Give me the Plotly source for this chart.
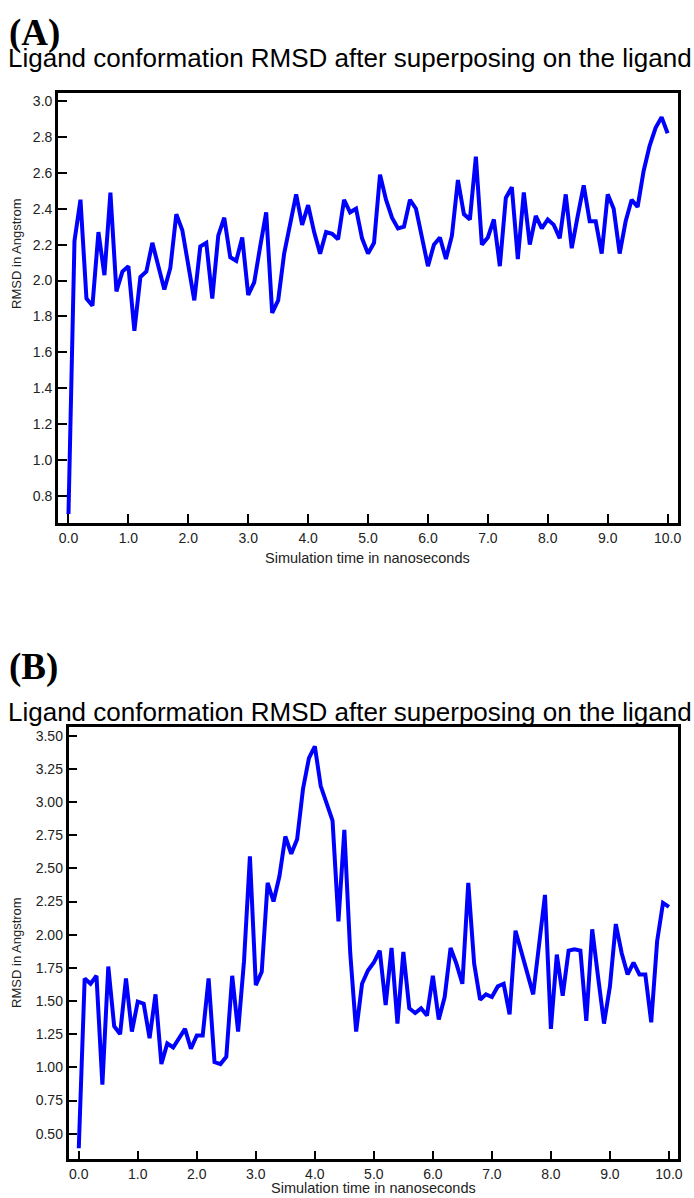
import plotly.graph_objects as go

W, H = 694, 1198

# ---- data ----
time_ns = [round(i * 0.1, 1) for i in range(101)]

rmsd_a = [0.70, 2.22, 2.45, 1.90, 1.86, 2.27, 2.03, 2.49, 1.94, 2.05,
          2.08, 1.72, 2.02, 2.05, 2.21, 2.08, 1.95, 2.07, 2.37, 2.28,
          2.09, 1.89, 2.19, 2.21, 1.90, 2.25, 2.35, 2.13, 2.11, 2.24,
          1.92, 1.99, 2.19, 2.38, 1.82, 1.89, 2.15, 2.32, 2.48, 2.31,
          2.42, 2.27, 2.15, 2.27, 2.26, 2.23, 2.45, 2.38, 2.40, 2.235,
          2.15, 2.21, 2.59, 2.45, 2.35, 2.29, 2.30, 2.45, 2.40, 2.24,
          2.08, 2.20, 2.24, 2.12, 2.25, 2.56, 2.37, 2.34, 2.69, 2.20,
          2.24, 2.34, 2.08, 2.46, 2.52, 2.12, 2.49, 2.20, 2.36, 2.29,
          2.34, 2.31, 2.235, 2.48, 2.18, 2.36, 2.53, 2.33, 2.33, 2.15,
          2.48, 2.40, 2.15, 2.33, 2.45, 2.41, 2.61, 2.75, 2.85, 2.91,
          2.82]

rmsd_b = [0.39, 1.67, 1.63, 1.69, 0.87, 1.76, 1.31, 1.25, 1.67, 1.27,
          1.495, 1.48, 1.22, 1.55, 1.025, 1.18, 1.15, 1.22, 1.29, 1.14,
          1.24, 1.24, 1.67, 1.04, 1.025, 1.08, 1.69, 1.27, 1.80, 2.59,
          1.62, 1.72, 2.39, 2.25, 2.44, 2.74, 2.61, 2.72, 3.10, 3.33,
          3.42, 3.12, 2.99, 2.86, 2.10, 2.79, 1.86, 1.27, 1.63, 1.73,
          1.79, 1.88, 1.47, 1.90, 1.33, 1.87, 1.445, 1.41, 1.445, 1.39,
          1.69, 1.36, 1.53, 1.90, 1.78, 1.63, 2.39, 1.78, 1.51, 1.55,
          1.53, 1.61, 1.63, 1.40, 2.03, 1.88, 1.71, 1.55, 1.91, 2.30,
          1.29, 1.85, 1.54, 1.88, 1.89, 1.88, 1.35, 2.04, 1.68, 1.33,
          1.61, 2.08, 1.86, 1.70, 1.79, 1.70, 1.70, 1.34, 1.95, 2.24,
          2.21]

x_tickvals = list(range(11))
x_ticktext = [f"{v:.1f}" for v in x_tickvals]

panel_labels = ["(A)", "(B)"]
chart_title = "Ligand conformation RMSD after superposing on the ligand"
x_title = "Simulation time in nanoseconds"
y_title = "RMSD in Angstrom"

# ---- layout helpers (pixel -> paper) ----
def px_x(x):
    return x / W

def px_y(y):
    return 1 - y / H

FONT = "Arial, Liberation Sans, sans-serif"
SERIF = "Times New Roman, Liberation Serif, serif"

fig = go.Figure()
fig.add_trace(go.Scatter(x=time_ns, y=rmsd_a, mode="lines",
                         line=dict(color="#0000FF", width=4),
                         xaxis="x", yaxis="y", showlegend=False))
fig.add_trace(go.Scatter(x=time_ns, y=rmsd_b, mode="lines",
                         line=dict(color="#0000FF", width=4),
                         xaxis="x2", yaxis="y2", showlegend=False))

axis_common = dict(showline=True, linecolor="black", linewidth=2.5,
                   mirror=True, ticks="inside", ticklen=9, tickwidth=2,
                   tickcolor="black", showgrid=False, zeroline=False,
                   tickfont=dict(family=FONT, size=14, color="#222"))

# panel A box: x 58.3-682.7, y 92.7-523
# panel B box: x 69-682.7, y 727.3-1159.3
fig.update_layout(
    width=W, height=H, autosize=False,
    margin=dict(l=0, r=0, t=0, b=0),
    paper_bgcolor="white", plot_bgcolor="white",
    xaxis=dict(domain=[px_x(58.3), px_x(682.7)], anchor="y",
               range=[-0.177, 10.17], tickvals=x_tickvals,
               ticktext=x_ticktext, **axis_common),
    yaxis=dict(domain=[px_y(523), px_y(92.7)], anchor="x",
               range=[0.65, 3.046], dtick=0.2, tick0=0, tickformat=".1f",
               **axis_common),
    xaxis2=dict(domain=[px_x(69), px_x(682.7)], anchor="y2",
                range=[-0.174, 10.15], tickvals=x_tickvals,
                ticktext=x_ticktext, **axis_common),
    yaxis2=dict(domain=[px_y(1159.3), px_y(727.3)], anchor="x2",
                range=[0.307, 3.563], dtick=0.25, tick0=0, tickformat=".2f",
                **axis_common),
)

ann = []
# panel labels
for lab, yc in zip(panel_labels, [33, 667]):
    ann.append(dict(text=f"<b>{lab}</b>", x=px_x(7), y=px_y(yc),
                    xref="paper", yref="paper", xanchor="left", yanchor="middle",
                    showarrow=False, font=dict(family=SERIF, size=37, color="black")))
# chart titles
for yc in [57.5, 711.5]:
    ann.append(dict(text=chart_title, x=px_x(6), y=px_y(yc),
                    xref="paper", yref="paper", xanchor="left", yanchor="middle",
                    showarrow=False, font=dict(family=FONT, size=26, color="black")))
# x titles
for xc, yc in [((58.3 + 682.7) / 2, 558), ((69 + 682.7) / 2, 1188)]:
    ann.append(dict(text=x_title, x=px_x(xc), y=px_y(yc),
                    xref="paper", yref="paper", xanchor="center", yanchor="middle",
                    showarrow=False, font=dict(family=FONT, size=14.5, color="#222")))
# y titles
for yc in [253, 952]:
    ann.append(dict(text=y_title, x=px_x(16), y=px_y(yc), textangle=-90,
                    xref="paper", yref="paper", xanchor="center", yanchor="middle",
                    showarrow=False, font=dict(family=FONT, size=13, color="#222")))
fig.update_layout(annotations=ann)

fig.write_html(
    "out.html",
    config={"displayModeBar": False},
    post_script="document.body.style.margin='0';document.body.style.padding='0';"
                "document.body.style.overflow='hidden';",
)
